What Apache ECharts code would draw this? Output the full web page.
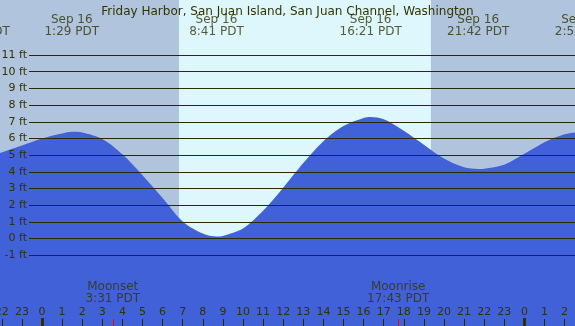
<!DOCTYPE html>
<html>
<head>
<meta charset="utf-8">
<script src="https://cdn.jsdelivr.net/npm/echarts@6/dist/echarts.min.js"></script>
<style>
  html, body { margin: 0; padding: 0; background: #fff; }
  #chart { width: 575px; height: 326px; }
</style>
</head>
<body>
<div id="chart"></div>
<script>
// tide height in ft; hours counted from midnight Sep 16
const tideHours = [-2.09, -1, 0, 1, 1.48, 2, 3, 4, 5, 6, 7, 8, 8.69, 9, 10, 11, 12, 13, 14, 15, 16, 16.35, 17, 18, 19, 20, 21, 21.7, 22, 23, 24, 25, 26, 26.52];
const tideFeet = [5.13, 5.58, 6.0, 6.3, 6.4, 6.36, 5.97, 5.05, 3.8, 2.43, 1.03, 0.3, 0.12, 0.16, 0.6, 1.67, 3.05, 4.53, 5.84, 6.75, 7.23, 7.29, 7.15, 6.47, 5.63, 4.8, 4.27, 4.17, 4.19, 4.43, 5.08, 5.78, 6.25, 6.36];

// high / low tide labels
const extremeHours = [-3.15, 1.48, 8.68, 16.35, 21.7, 26.87];
const extremeDates = ['Sep 15', 'Sep 16', 'Sep 16', 'Sep 16', 'Sep 16', 'Sep 17'];
const extremeClock = ['20:51 PDT', '1:29 PDT', '8:41 PDT', '16:21 PDT', '21:42 PDT', '2:52 PDT'];

// sun and moon
const sunrise = 6.82;
const sunset = 19.35;
const moonHours = [3.52, 17.72];
const moonNames = ['Moonset', 'Moonrise'];
const moonClock = ['3:31 PDT', '17:43 PDT'];
const midnights = [0, 24];

const viewStart = -2.09, viewEnd = 26.52;
const ink = '#333300';
const rule = '#2a2a00';
const font = 'DejaVu Sans';

const chart = echarts.init(document.getElementById('chart'));

const option = {
  animation: false,
  title: {
    text: 'Friday Harbor, San Juan Island, San Juan Channel, Washington',
    left: 'center',
    top: 1,
    textStyle: { fontSize: 12, fontWeight: 'normal', color: ink, fontFamily: font }
  },
  grid: [
    { left: 0, right: 0, top: 0, bottom: 0, outerBoundsMode: 'none' },          // fill + day/night
    { left: 29, right: 0, top: 55, bottom: 70.7, outerBoundsMode: 'none' },     // ft lines
    { left: 1.8, right: -9.7, top: 0, bottom: 0, outerBoundsMode: 'none' }      // hour ticks and labels
  ],
  xAxis: [
    { gridIndex: 0, type: 'value', min: viewStart, max: viewEnd, show: false },
    { gridIndex: 1, type: 'value', min: 0, max: 1, show: false },
    {
      gridIndex: 2, type: 'value', min: -2, max: 27, interval: 1, z: 10,
      axisLine: { show: false },
      splitLine: { show: false },
      axisTick: { show: true, inside: true, length: 7, lineStyle: { color: rule, width: 1 } },
      axisLabel: {
        inside: true, margin: 8, fontSize: 11, color: ink, fontFamily: font,
        showMinLabel: true, showMaxLabel: true,
        formatter: v => String(((v % 24) + 24) % 24)
      }
    }
  ],
  yAxis: [
    { gridIndex: 0, type: 'value', min: -5.24, max: 14.30, show: false },
    {
      gridIndex: 1, type: 'value', min: -1, max: 11, interval: 1, z: 10,
      axisLine: { show: false },
      axisTick: { show: false },
      splitLine: { show: true, lineStyle: { color: rule, width: 1 } },
      axisLabel: { margin: 2, fontSize: 11, color: ink, fontFamily: font, formatter: '{value} ft' }
    },
    { gridIndex: 2, type: 'value', min: 0, max: 326, show: false }
  ],
  series: [
    {
      name: 'daylight',
      type: 'line',
      xAxisIndex: 0, yAxisIndex: 0,
      data: [],
      z: 1,
      silent: true,
      markArea: {
        silent: true,
        data: [
          [{ xAxis: viewStart, itemStyle: { color: '#b0c4de' } }, { xAxis: sunrise }],
          [{ xAxis: sunrise, itemStyle: { color: '#def7fd' } }, { xAxis: sunset }],
          [{ xAxis: sunset, itemStyle: { color: '#b0c4de' } }, { xAxis: viewEnd }]
        ]
      }
    },
    {
      name: 'tide',
      type: 'line',
      xAxisIndex: 0, yAxisIndex: 0,
      z: 3,
      smooth: 0.3,
      symbol: 'none',
      lineStyle: { width: 0 },
      areaStyle: { color: '#4161d9', opacity: 1, origin: 'start' },
      data: tideHours.map((h, i) => [h, tideFeet[i]])
    },
    {
      name: 'extremes',
      type: 'scatter',
      xAxisIndex: 2, yAxisIndex: 2,
      clip: false,
      z: 6,
      symbolSize: 1,
      itemStyle: { color: 'rgba(0,0,0,0)' },
      label: {
        show: true, position: 'inside', fontSize: 12, lineHeight: 12,
        color: ink, fontFamily: font,
        formatter: p => extremeDates[p.dataIndex] + '\n' + extremeClock[p.dataIndex]
      },
      data: extremeHours.map(h => [h, 300])
    },
    {
      name: 'moon',
      type: 'scatter',
      xAxisIndex: 2, yAxisIndex: 2,
      clip: false,
      z: 6,
      symbolSize: 1,
      itemStyle: { color: 'rgba(0,0,0,0)' },
      label: {
        show: true, position: 'inside', fontSize: 12, lineHeight: 12,
        color: ink, fontFamily: font,
        formatter: p => moonNames[p.dataIndex] + '\n' + moonClock[p.dataIndex]
      },
      data: moonHours.map(h => [h, 32.7])
    },
    {
      name: 'marks',
      type: 'line',
      xAxisIndex: 2, yAxisIndex: 2,
      data: [],
      z: 8,
      markLine: {
        silent: true,
        symbol: 'none',
        label: { show: false },
        data: midnights.map(h => [
          { coord: [h, 0], lineStyle: { color: ink, width: 3, type: 'solid' } },
          { coord: [h, 8] }
        ]).concat(moonHours.map(h => [
          { coord: [h, 0], lineStyle: { color: '#ff0000', width: 1, type: 'solid' } },
          { coord: [h, 7] }
        ]))
      }
    }
  ]
};

chart.setOption(option);
</script>
</body>
</html>
